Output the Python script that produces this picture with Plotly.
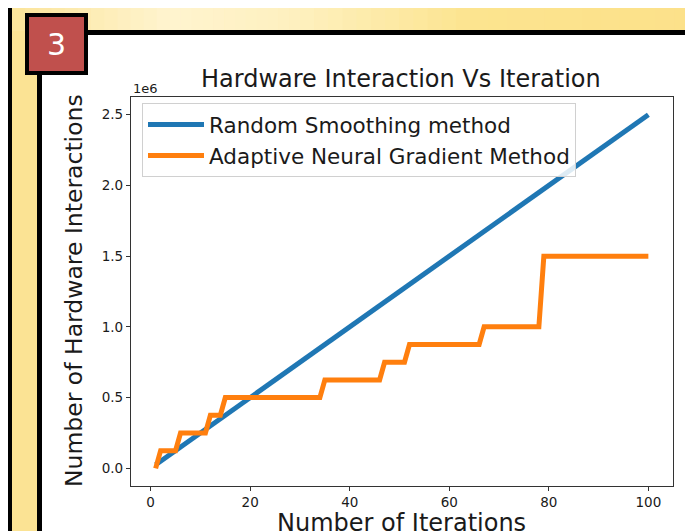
import plotly.graph_objects as go

# ---- data ----
iterations_random = [1, 100]
interactions_random = [25000, 2500000]

iterations_adaptive = [1, 2, 5, 6, 11, 12, 14, 15, 34, 35, 46, 47, 51, 52, 66, 67, 78, 79, 100]
interactions_adaptive = [0, 125000, 125000, 250000, 250000, 375000, 375000, 500000, 500000,
                         625000, 625000, 750000, 750000, 875000, 875000, 1000000, 1000000,
                         1500000, 1500000]

y_tickvals = [0, 500000, 1000000, 1500000, 2000000, 2500000]
y_ticktext = ["0.0", "0.5", "1.0", "1.5", "2.0", "2.5"]
x_tickvals = [0, 20, 40, 60, 80, 100]

# page body has an 8px margin: the figure starts at (8, 8) of the window
OFF = 8
W, H = 693 - OFF, 531 - OFF
L, R, T, B = 131, 673, 97, 486  # plot area in window pixels


def px(x):
    return (x - L) / (R - L)


def py(y):
    return (B - y) / (B - T)


FONT = "DejaVu Sans"
TXT = "#1a1a1a"

fig = go.Figure()
fig.add_trace(go.Scatter(x=iterations_random, y=interactions_random, mode="lines",
                         name="Random Smoothing method",
                         line=dict(color="#1f77b4", width=5)))
fig.add_trace(go.Scatter(x=iterations_adaptive, y=interactions_adaptive, mode="lines",
                         name="Adaptive Neural Gradient Method",
                         line=dict(color="#ff7f0e", width=5)))


def rect(x0, x1, y0, y1, color):
    return dict(type="rect", xref="paper", yref="paper", x0=px(x0), x1=px(x1),
                y0=py(y0), y1=py(y1), fillcolor=color, line=dict(width=0), layer="below")


def mix(c1, c2, t):
    a = [int(c1[i:i + 2], 16) for i in (1, 3, 5)]
    b = [int(c2[i:i + 2], 16) for i in (1, 3, 5)]
    return "#" + "".join("%02X" % round(a[k] + (b[k] - a[k]) * t) for k in range(3))


shapes = [rect(0, 693, 0, 531, "#FBE394"), rect(0, 8, 0, 531, "#FFF7DC")]
# top band gradient: yellow -> pale -> yellow
stops = [(12, "#FBE49A"), (170, "#FFF4CF"), (300, "#FEF0BE"), (470, "#FCE48F"), (693, "#FCE18A")]
for (xa, ca), (xb, cb) in zip(stops[:-1], stops[1:]):
    n = 12
    for k in range(n):
        x0 = xa + (xb - xa) * k / n
        x1 = xa + (xb - xa) * (k + 1) / n + 0.6
        shapes.append(rect(x0, x1, 0, 31, mix(ca, cb, (k + 0.5) / n)))
shapes += [
    rect(42, 693, 35, 531, "white"),
    rect(8, 12, 0, 531, "black"),
    rect(60, 693, 30, 35, "black"),
    rect(37, 42, 60, 531, "black"),
    rect(25, 88, 13, 75, "black"),
    rect(29, 84, 17, 71, "#C0504D"),
]

annotations = [
    dict(text="3", xref="paper", yref="paper", x=px(56.5), y=py(44), showarrow=False,
         font=dict(family=FONT, size=30, color="white"), xanchor="center", yanchor="middle"),
    dict(text="Hardware Interaction Vs Iteration", xref="paper", yref="paper", x=px(401), y=py(79),
         showarrow=False, font=dict(family=FONT, size=24, color=TXT),
         xanchor="center", yanchor="middle"),
    dict(text="1e6", xref="paper", yref="paper", x=px(131), y=py(88), showarrow=False,
         font=dict(family=FONT, size=13, color=TXT), xanchor="left", yanchor="middle"),
    dict(text="Number of Hardware Interactions", xref="paper", yref="paper", x=px(74), y=py(291),
         showarrow=False, textangle=-90, font=dict(family=FONT, size=23.5, color=TXT),
         xanchor="center", yanchor="middle"),
    dict(text="Number of Iterations", xref="paper", yref="paper", x=px(401), y=py(523),
         showarrow=False, font=dict(family=FONT, size=24, color=TXT),
         xanchor="center", yanchor="middle"),
]

fig.update_layout(
    width=W, height=H,
    margin=dict(l=L - OFF, r=W - (R - OFF), t=T - OFF, b=H - (B - OFF), pad=0),
    paper_bgcolor="#FBE394", plot_bgcolor="white",
    shapes=shapes, annotations=annotations,
    showlegend=True,
    legend=dict(x=px(142), y=py(103), xanchor="left", yanchor="top",
                bgcolor="rgba(255,255,255,0.85)", bordercolor="#d0d0d0", borderwidth=1,
                font=dict(family=FONT, size=21.5, color=TXT),
                itemwidth=56, tracegroupgap=0),
    font=dict(family=FONT, color=TXT),
)
axis_common = dict(ticks="outside", ticklen=4, tickwidth=1, tickcolor="#333",
                   showgrid=False, zeroline=False, showline=True, linecolor="#333",
                   linewidth=1.2, mirror=True,
                   tickfont=dict(family=FONT, size=13.5, color=TXT))
fig.update_xaxes(range=[-3.95, 104.95], tickvals=x_tickvals, **axis_common)
fig.update_yaxes(range=[-125000, 2625000], tickvals=y_tickvals, ticktext=y_ticktext,
                 **axis_common)

fig.write_html("out.html")
